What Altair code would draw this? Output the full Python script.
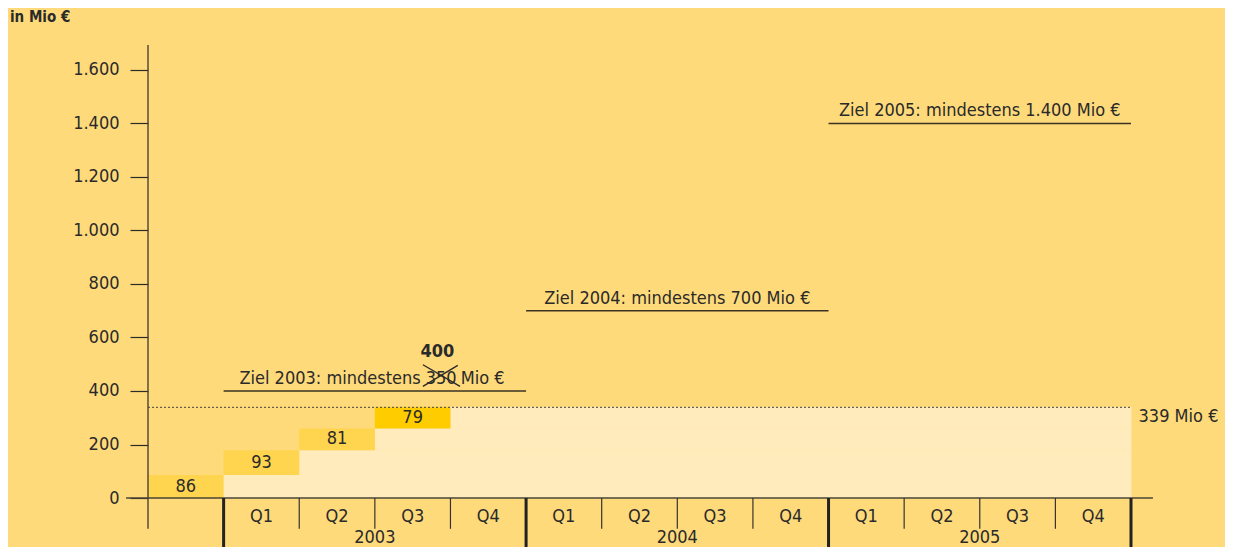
import altair as alt
import pandas as pd

# ---------------- data ----------------
step_labels = ["", "Q1", "Q2", "Q3"]          # first column = before 2003
step_values = [86, 93, 81, 79]
step_colors = ["#FFD44F", "#FFD44F", "#FFD44F", "#FFCC00"]
total_value = 339
total_label = "339 Mio €"

years = ["2003", "2004", "2005"]
quarters = ["Q1", "Q2", "Q3", "Q4"]
goal_values = [400, 700, 1400]
goal_texts = [None, "Ziel 2004: mindestens 700 Mio €", "Ziel 2005: mindestens 1.400 Mio €"]
goal2003_prefix = "Ziel 2003: mindestens"
goal2003_old = "350"
goal2003_new = "400"
goal2003_suffix = "Mio €"
y_ticks = [0, 200, 400, 600, 800, 1000, 1200, 1400, 1600]
unit_label = "in Mio €"

# ---------------- styling ----------------
BG = "#FFDA7B"
PALE = "#FFEBBB"
DARK = "#2a2a2a"
FONT = "DejaVu Sans Condensed, Liberation Sans Narrow, sans-serif"
FS = 18

n_cols = 1 + len(years) * len(quarters)   # 13 columns
xs = alt.Scale(domain=[0, n_cols], nice=False, zero=False)
ys = alt.Scale(domain=[-183, 1693], nice=False, zero=False)

Y_AXIS = alt.Axis(
    values=y_ticks, domain=False, grid=False, ticks=True, tickSize=18,
    tickColor=DARK, tickWidth=1.2, labelFont=FONT, labelFontSize=FS,
    labelColor=DARK, labelPadding=11, title="",
    labelExpr="replace(format(datum.value, ','), ',', '.')")

def X(f="x"):
    return alt.X(f"{f}:Q", scale=xs, axis=None)

def Y(f="y"):
    return alt.Y(f"{f}:Q", scale=ys, axis=Y_AXIS)

# cumulative steps
starts, acc = [], 0
for v in step_values:
    starts.append(acc)
    acc += v
steps = pd.DataFrame({
    "x": list(range(len(step_values))),
    "x2": [i + 1 for i in range(len(step_values))],
    "y": starts,
    "y2": [s + v for s, v in zip(starts, step_values)],
    "mid": [s + v / 2 for s, v in zip(starts, step_values)],
    "xm": [i + 0.5 for i in range(len(step_values))],
    "t": [str(v) for v in step_values],
    "c": step_colors,
})

# pale band: one rect per level, from the column after the step to the end
pale_rows = []
for k in range(len(step_values)):
    pale_rows.append({"x": k + 1, "x2": n_cols, "y": starts[k], "y2": starts[k] + step_values[k]})
pale = pd.DataFrame(pale_rows)

pale_layer = alt.Chart(pale).mark_rect(color=PALE, stroke=PALE, strokeWidth=0.8).encode(
    x=X(), x2="x2:Q", y=Y(), y2="y2:Q")

bars = alt.Chart(steps).mark_rect().encode(
    x=X(), x2="x2:Q", y=Y(), y2="y2:Q",
    color=alt.Color("c:N", scale=None),
)
bar_text = alt.Chart(steps).mark_text(font=FONT, fontSize=FS, color=DARK, baseline="middle").encode(
    x=X("xm"), y=Y("mid"), text="t:N")

# dotted total line + label
total_df = pd.DataFrame({"x": [0], "x2": [n_cols], "y": [total_value], "t": [total_label],
                         "xl": [n_cols + 0.1], "yl": [total_value - 35]})
total_line = alt.Chart(total_df).mark_rule(color="#444", strokeDash=[2, 2], strokeWidth=1).encode(
    x=X(), x2="x2:Q", y=Y())
total_text = alt.Chart(total_df).mark_text(font=FONT, fontSize=FS, color=DARK, align="left",
                                           baseline="middle").encode(x=X("xl"), y=Y("yl"), text="t:N")

# goal lines
goal_df = pd.DataFrame({
    "x": [1 + 4 * i for i in range(len(years))],
    "x2": [5 + 4 * i for i in range(len(years))],
    "xm": [3 + 4 * i for i in range(len(years))],
    "y": goal_values,
    "t": [t if t else "" for t in goal_texts],
})
goal_lines = alt.Chart(goal_df).mark_rule(color="#3a3222", strokeWidth=1.5).encode(x=X(), x2="x2:Q", y=Y())
goal_text = alt.Chart(goal_df).mark_text(font=FONT, fontSize=FS, color=DARK, baseline="alphabetic",
                                         dy=-7).encode(x=X("xm"), y=Y(), text="t:N")

# 2003 composite annotation
g3 = goal_values[0]
old_x = 3.876
pre_df = pd.DataFrame({"x": [old_x - 0.27], "y": [g3], "t": [goal2003_prefix]})
old_df = pd.DataFrame({"x": [old_x], "y": [g3], "t": [goal2003_old]})
suf_df = pd.DataFrame({"x": [old_x + 0.26], "y": [g3], "t": [goal2003_suffix]})
new_df = pd.DataFrame({"x": [old_x - 0.05], "y": [g3 + 145], "t": [goal2003_new]})
pre_t = alt.Chart(pre_df).mark_text(font=FONT, fontSize=FS, color=DARK, align="right", baseline="alphabetic",
                                    dy=-7).encode(x=X(), y=Y(), text="t:N")
old_t = alt.Chart(old_df).mark_text(font=FONT, fontSize=FS, color=DARK, align="center", baseline="alphabetic",
                                    dy=-7).encode(x=X(), y=Y(), text="t:N")
suf_t = alt.Chart(suf_df).mark_text(font=FONT, fontSize=FS, color=DARK, align="left", baseline="alphabetic",
                                    dy=-7).encode(x=X(), y=Y(), text="t:N")
new_t = alt.Chart(new_df).mark_text(font=FONT, fontSize=FS, fontWeight="bold", color=DARK, align="center",
                                    baseline="middle").encode(x=X(), y=Y(), text="t:N")
cross_df = pd.DataFrame({
    "x": [old_x - 0.24, old_x - 0.24],
    "x2": [old_x + 0.25, old_x + 0.22],
    "y": [g3 + 98, g3 + 17],
    "y2": [g3 + 17, g3 + 96],
})
cross = alt.Chart(cross_df).mark_rule(color=DARK, strokeWidth=1.4).encode(
    x=X(), x2="x2:Q", y=Y(), y2="y2:Q")

# custom axes (lines)
axis_lines = pd.DataFrame({
    "x": [-0.29, 0], "x2": [n_cols + 0.29, 0],
    "y": [0, -115], "y2": [0, 1693],
})
axis_layer = alt.Chart(axis_lines).mark_rule(color="#4a4436", strokeWidth=1.4).encode(
    x=X(), x2="x2:Q", y=Y(), y2="y2:Q")

thin_x = [1 + 4 * yi + q for yi in range(len(years)) for q in range(1, 4)]
thin_df = pd.DataFrame({"x": thin_x, "y": [0] * len(thin_x), "y2": [-115] * len(thin_x)})
thin_layer = alt.Chart(thin_df).mark_rule(color="#333", strokeWidth=1.2).encode(x=X(), y=Y(), y2="y2:Q")

thick_x = [1 + 4 * yi for yi in range(len(years) + 1)]
thick_df = pd.DataFrame({"x": thick_x, "y": [0] * len(thick_x), "y2": [-183] * len(thick_x)})
thick_layer = alt.Chart(thick_df).mark_rule(color="#222", strokeWidth=3).encode(x=X(), y=Y(), y2="y2:Q")

q_df = pd.DataFrame({
    "x": [1 + 4 * yi + q + 0.5 for yi in range(len(years)) for q in range(4)],
    "y": [-72] * 12,
    "t": [quarters[q] for yi in range(len(years)) for q in range(4)],
})
q_text = alt.Chart(q_df).mark_text(font=FONT, fontSize=FS, color=DARK, baseline="middle").encode(
    x=X(), y=Y(), text="t:N")
yr_df = pd.DataFrame({"x": [3 + 4 * i for i in range(len(years))], "y": [-150] * 3, "t": years})
yr_text = alt.Chart(yr_df).mark_text(font=FONT, fontSize=FS, color=DARK, baseline="middle").encode(
    x=X(), y=Y(), text="t:N")

unit_df = pd.DataFrame({"t": [unit_label]})
unit_text = alt.Chart(unit_df).mark_text(font=FONT, fontSize=15, fontWeight="bold", color=DARK,
                                         align="left", baseline="middle").encode(
    x=alt.value(-138), y=alt.value(-28), text="t:N")

chart = alt.layer(
    pale_layer, bars, bar_text, total_line, total_text,
    goal_lines, goal_text, pre_t, old_t, suf_t, new_t, cross,
    axis_layer, thin_layer, thick_layer, q_text, yr_text, unit_text,
).properties(
    width=983, height=502,
    autosize=alt.AutoSizeParams(type="none"),
    padding={"left": 140, "top": 37, "right": 94, "bottom": 0},
    background=BG,
).configure_view(stroke=None)

chart.save("out.html", embed_options={"renderer": "svg", "actions": False})
